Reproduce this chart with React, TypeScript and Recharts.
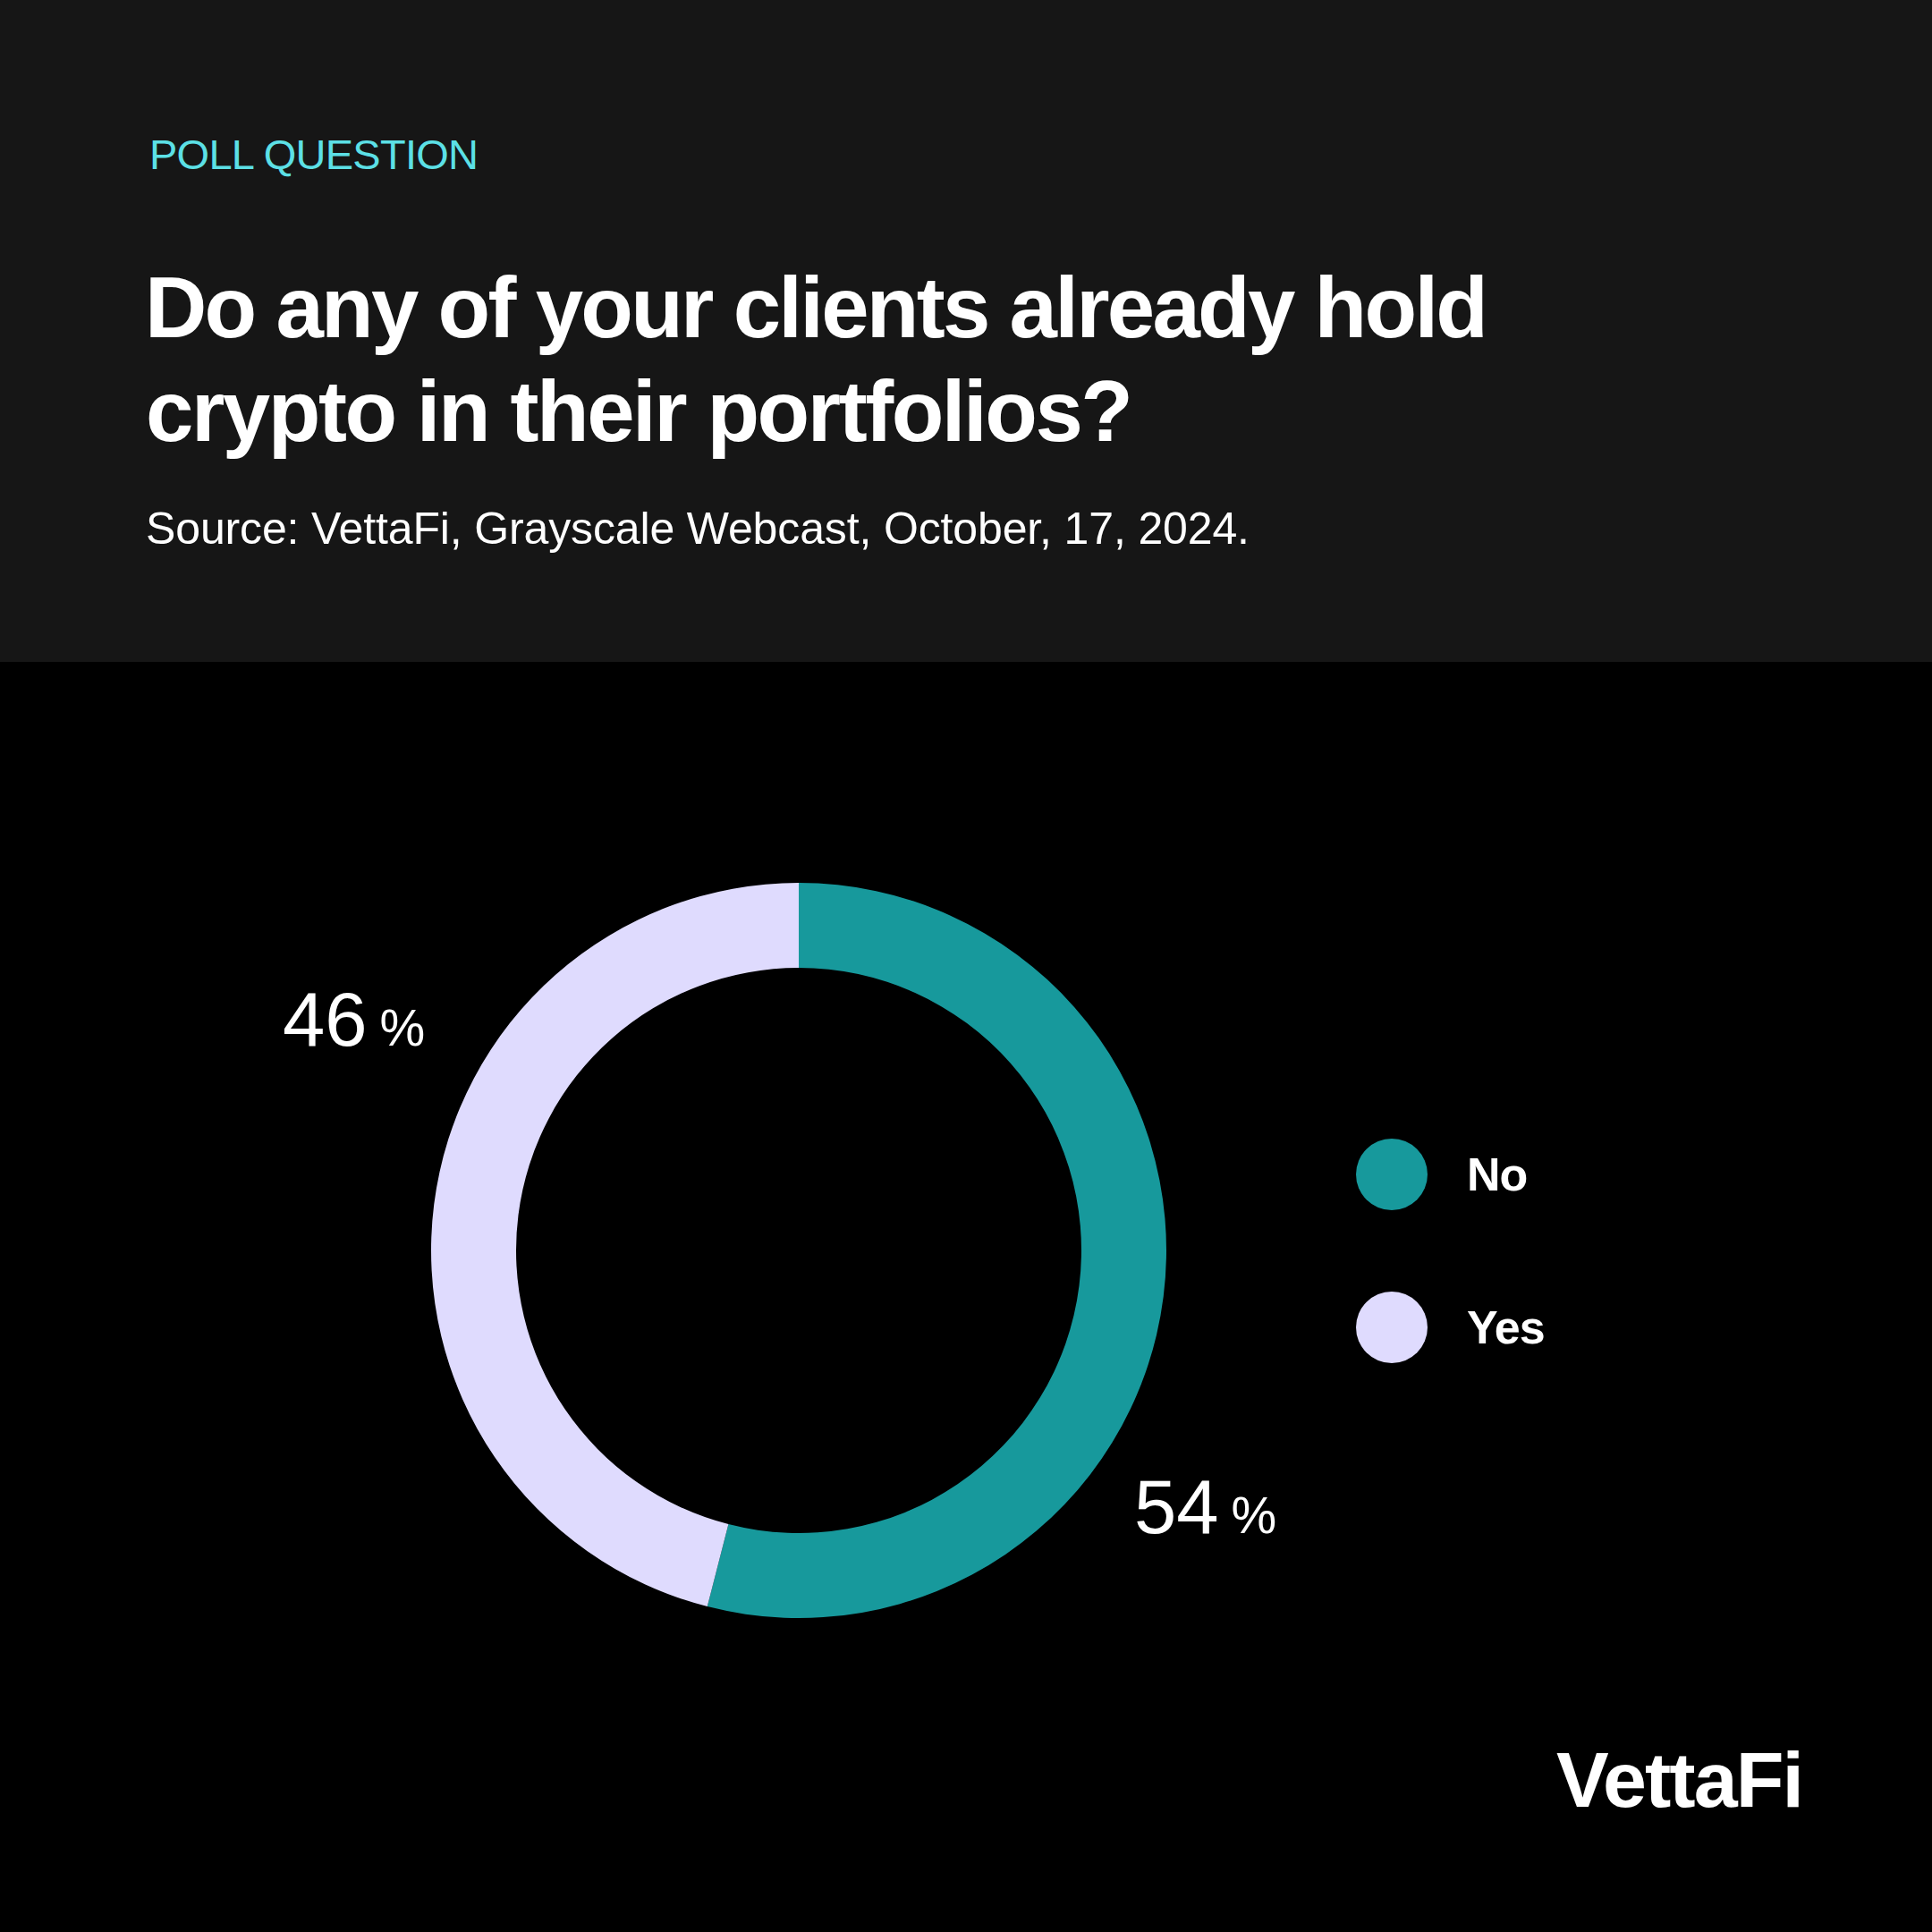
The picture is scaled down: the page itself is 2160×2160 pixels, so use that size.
import React from 'react';
import { PieChart, Pie, Cell, Legend } from 'recharts';

const CATEGORIES = ['No', 'Yes'];
const VALUES = [54, 46];
const COLORS = ['#17999C', '#DFDBFE'];
const KICKER = 'POLL QUESTION';
const TITLE_LINES = ['Do any of your clients already hold', 'crypto in their portfolios?'];
const SOURCE = 'Source: VettaFi, Grayscale Webcast, October, 17, 2024.';
const BRAND = 'VettaFi';

const FONT = '"Liberation Sans", Arial, sans-serif';
const W = 2160;
const H = 2160;
const HEADER_H = 740;
const CX = 893;
const CY = 1398;
const LABEL_OFFSETS = [
  { dx: 375, dy: 316 },
  { dx: -577, dy: -229 },
];

const data = CATEGORIES.map((name, i) => ({ name, value: VALUES[i] }));

const renderLabel = (props: any) => {
  const { cx, cy, index, value } = props;
  const off = LABEL_OFFSETS[index];
  return (
    <text
      x={cx + off.dx}
      y={cy + off.dy}
      fill="#ffffff"
      fontFamily={FONT}
      textAnchor="start"
    >
      <tspan fontSize={85}>{value}</tspan>
      <tspan fontSize={57} dx={14}>%</tspan>
    </text>
  );
};

const LegendContent = (props: any) => {
  const { payload } = props;
  return (
    <div style={{ display: 'flex', flexDirection: 'column', gap: 91 }}>
      {(payload || []).map((p: any, i: number) => (
        <div key={i} style={{ display: 'flex', alignItems: 'center', height: 80 }}>
          <div
            style={{
              width: 80,
              height: 80,
              borderRadius: '50%',
              background: p.color,
            }}
          />
          <span
            style={{
              marginLeft: 44,
              color: '#ffffff',
              fontFamily: FONT,
              fontWeight: 700,
              fontSize: 52,
              letterSpacing: -1,
            }}
          >
            {p.value}
          </span>
        </div>
      ))}
    </div>
  );
};

export default function App() {
  return (
    <div
      style={{
        position: 'absolute',
        left: 0,
        top: 0,
        width: W,
        height: H,
        background: '#000000',
        overflow: 'hidden',
      }}
    >
      <div
        style={{
          position: 'absolute',
          left: 0,
          top: 0,
          width: W,
          height: HEADER_H,
          background: '#161616',
        }}
      />
      <div style={{ position: 'absolute', left: 0, top: 0 }}>
        <PieChart width={W} height={H} margin={{ top: 0, right: 0, bottom: 0, left: 0 }}>
          <Pie
            data={data}
            dataKey="value"
            nameKey="name"
            cx={CX}
            cy={CY}
            innerRadius={316}
            outerRadius={411}
            startAngle={90}
            endAngle={-270}
            stroke="none"
            labelLine={false}
            label={renderLabel}
            isAnimationActive={false}
          >
            {data.map((d, i) => (
              <Cell key={d.name} fill={COLORS[i]} stroke="none" />
            ))}
          </Pie>
          <Legend
            layout="vertical"
            align="right"
            verticalAlign="middle"
            content={<LegendContent />}
            wrapperStyle={{ left: 1516, top: 1273, right: 'auto', width: 'auto' }}
          />
        </PieChart>
      </div>
      <svg
        width={W}
        height={H}
        style={{ position: 'absolute', left: 0, top: 0, pointerEvents: 'none' }}
      >
        <text
          x={167}
          y={189}
          fill="#5CE0E6"
          fontFamily={FONT}
          fontSize={47}
          textLength={368}
          lengthAdjust="spacing"
        >
          {KICKER}
        </text>
        <text
          x={162}
          y={377}
          fill="#ffffff"
          fontFamily={FONT}
          fontWeight={700}
          fontSize={96}
          textLength={1502}
          lengthAdjust="spacing"
        >
          {TITLE_LINES[0]}
        </text>
        <text
          x={163}
          y={493}
          fill="#ffffff"
          fontFamily={FONT}
          fontWeight={700}
          fontSize={96}
          textLength={1104}
          lengthAdjust="spacing"
        >
          {TITLE_LINES[1]}
        </text>
        <text
          x={163}
          y={608}
          fill="#ffffff"
          fontFamily={FONT}
          fontSize={50}
          textLength={1234}
          lengthAdjust="spacing"
        >
          {SOURCE}
        </text>
        <text
          x={1740}
          y={2020}
          fill="#ffffff"
          fontFamily={FONT}
          fontWeight={700}
          fontSize={88}
          textLength={277}
          lengthAdjust="spacing"
        >
          {BRAND}
        </text>
      </svg>
    </div>
  );
}
